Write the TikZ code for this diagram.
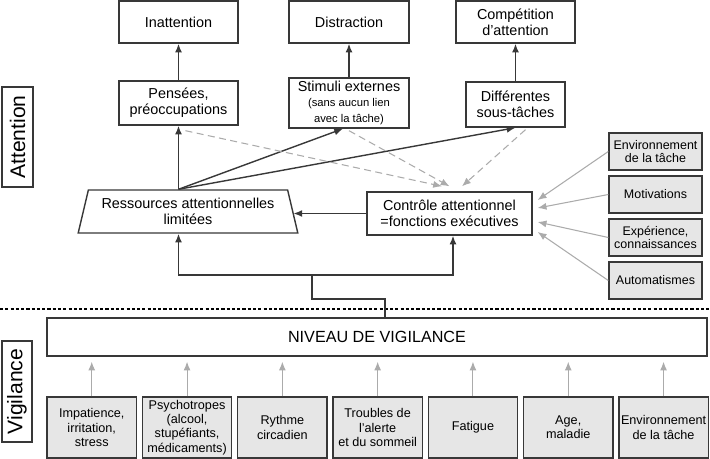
\documentclass[tikz,border=0pt]{standalone}
\usepackage{fontspec}
\setmainfont{Liberation Sans}
\usetikzlibrary{arrows.meta,shapes.geometric}
\definecolor{boxline}{HTML}{383838}
\definecolor{boxfill}{HTML}{E6E6E6}
\definecolor{linkgray}{HTML}{ABABAB}
\newcommand{\smalltxt}{\fontsize{6.4}{7}\selectfont}
\tikzset{
  box/.style={draw=boxline, line width=0.8pt, inner sep=1pt, align=center,
              font=\fontsize{8.2}{9.3}\selectfont},
  factor/.style={box, fill=boxfill, font=\fontsize{7.2}{8.1}\selectfont},
  sidebox/.style={box, fill=boxfill, minimum width=1.86cm, minimum height=0.74cm,
              font=\fontsize{7.1}{7.6}\selectfont},
  lowbox/.style={factor, minimum width=1.79cm, minimum height=1.22cm},
  tag/.style={draw=boxline, line width=0.8pt, inner sep=0pt, rotate=90,
              font=\fontsize{12}{12}\selectfont},
  arr/.style={-{Latex[length=5pt,width=4pt]}, line width=0.8pt, draw=boxline},
  garr/.style={-{Latex[length=5pt,width=4pt]}, line width=0.6pt, draw=linkgray},
  darr/.style={garr, dash pattern=on 4pt off 2.5pt},
}
\begin{document}
\begin{tikzpicture}[x=0.02cm, y=-0.02cm]
\useasboundingbox (0,0) rectangle (710,459);
% attention part
\node[tag, minimum width=2cm, minimum height=0.62cm] (attlabel) at (17.5,137) {Attention};
\node[box, minimum width=2.38cm, minimum height=0.84cm] (inatt)  at (178.5,22) {Inattention};
\node[box, minimum width=2.4cm,  minimum height=0.84cm] (distr)  at (349,22)   {Distraction};
\node[box, minimum width=2.38cm, minimum height=0.84cm] (compet) at (515.5,22) {Compétition\\d’attention};
\node[box, minimum width=2.38cm, minimum height=0.88cm] (pensees) at (178.5,103) {Pensées,\\préoccupations};
\node[box, minimum width=2.4cm,  minimum height=1cm]    (stimuli) at (349,103)
  {Stimuli externes\\[-1pt]\smalltxt (sans aucun lien\\\smalltxt avec la tâche)};
\node[box, minimum width=1.98cm, minimum height=0.9cm]  (soustaches) at (515.5,104.5) {Différentes\\sous-tâches};
\node[box, shape=trapezium, trapezium left angle=73.5, trapezium right angle=73.5,
      trapezium stretches=true, minimum width=4.4cm, minimum height=0.86cm] (ress) at (188,211.5)
  {Ressources attentionnelles\\limitées};
\node[box, minimum width=3.3cm, minimum height=0.86cm] (controle) at (449.5,213.5)
  {Contrôle attentionnel\\=fonctions exécutives};
\node[sidebox] (env) at (655.5,151.5) {Environnement\\de la tâche};
\node[sidebox] (motiv) at (655.5,194.5) {Motivations};
\node[sidebox] (exper) at (655.5,237.5) {Expérience,\\connaissances};
\node[sidebox] (autom) at (655.5,280.5) {Automatismes};

\draw[arr] (pensees) -- (inatt);
\draw[arr] (stimuli) -- (distr);
\draw[arr] (soustaches) -- (compet);
\draw[arr] (pensees.south |- ress.north) -- (pensees.south);
\draw[arr] (pensees.south |- ress.north) -- ([xshift=-0.12cm]stimuli.south);
\draw[arr] (pensees.south |- ress.north) -- (soustaches.south);
\draw[arr] (controle.west) -- (ress.east |- controle.west);
\draw[darr] ([xshift=0.14cm,yshift=-0.1cm]pensees.south) -- ([xshift=-0.15cm,yshift=0.1cm]controle.north);
\draw[darr] ([yshift=-0.04cm]stimuli.south) -- ([yshift=0.1cm]controle.north);
\draw[darr] ([xshift=0.2cm,yshift=-0.04cm]soustaches.south) -- ([xshift=0.25cm,yshift=0.1cm]controle.north);
\draw[garr] (env.west)   -- ([xshift=0.1cm,yshift=0.27cm]controle.east);
\draw[garr] (motiv.west) -- ([xshift=0.1cm,yshift=0.11cm]controle.east);
\draw[garr] (exper.west) -- ([xshift=0.1cm,yshift=-0.17cm]controle.east);
\draw[garr] (autom.west) -- ([xshift=0.1cm,yshift=-0.37cm]controle.east);

% separation
\draw[line width=1pt, dash pattern=on 1.8pt off 1.2pt] (0,309) -- (710,309);

% vigilance part
\node[tag, minimum width=2.02cm, minimum height=0.6cm] (viglabel) at (17,391.5) {Vigilance};
\node[box, minimum width=13.2cm, minimum height=0.76cm, font=\fontsize{9.2}{10}\selectfont]
  (niveau) at (377,337) {NIVEAU DE VIGILANCE};
\node[lowbox] (f1) at (91.75,427.5)  {Impatience,\\irritation,\\stress};
\node[lowbox] (f2) at (187.05,427.5) {Psychotropes\\(alcool,\\stupéfiants,\\médicaments)};
\node[lowbox] (f3) at (282.35,427.5) {Rythme\\circadien};
\node[lowbox] (f4) at (377.65,427.5) {Troubles de\\l’alerte\\et du sommeil};
\node[lowbox] (f5) at (472.95,427.5) {Fatigue};
\node[lowbox] (f6) at (568.25,427.5) {Age,\\maladie};
\node[lowbox] (f7) at (663.55,427.5) {Environnement\\de la tâche};
\foreach \i in {1,...,7}
  \draw[garr, shorten >=0.1cm] (f\i.north) -- (f\i.north |- niveau.south);

\coordinate (fork) at (312,275);
\draw[line width=0.8pt, draw=boxline] ([xshift=0.16cm]niveau.north) |- (312,299) -- (fork);
\draw[arr] (fork) -| (pensees.south |- ress.south);
\draw[arr] (fork) -| ([xshift=0.07cm]controle.south);
\end{tikzpicture}
\end{document}
